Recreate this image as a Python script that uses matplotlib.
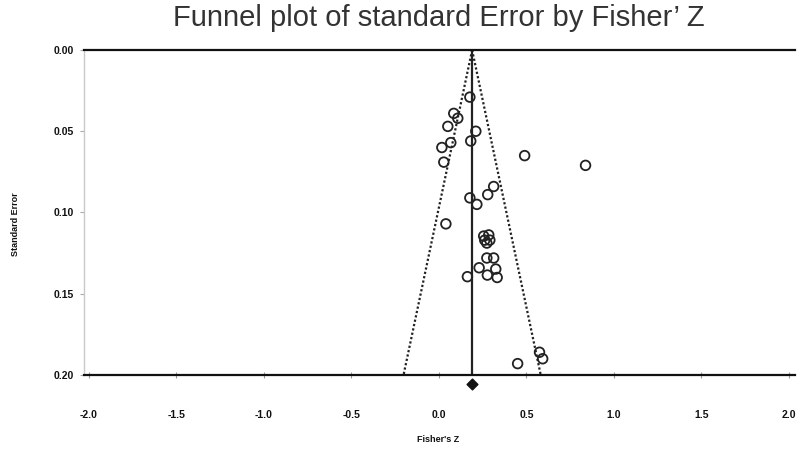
import numpy as np
import matplotlib
matplotlib.use("Agg")
import matplotlib.pyplot as plt

# Study effect sizes (Fisher's Z) and their standard errors
fisher_z = [0.177, 0.085, 0.108, 0.051, 0.211, 0.182, 0.068, 0.017, 0.028,
            0.490, 0.838, 0.313, 0.279, 0.177, 0.217, 0.040,
            0.256, 0.285, 0.262, 0.291, 0.274,
            0.274, 0.313, 0.163, 0.230, 0.277, 0.325, 0.333,
            0.575, 0.593, 0.450]
std_err = [0.029, 0.039, 0.042, 0.047, 0.050, 0.056, 0.057, 0.060, 0.069,
           0.065, 0.071, 0.084, 0.089, 0.091, 0.095, 0.107,
           0.1145, 0.1138, 0.117, 0.117, 0.1188,
           0.128, 0.128, 0.1395, 0.134, 0.1385, 0.1348, 0.140,
           0.186, 0.190, 0.193]
pooled_z = 0.19
se_max = 0.20

x_ticks = [-2.0, -1.5, -1.0, -0.5, 0.0, 0.5, 1.0, 1.5, 2.0]
y_ticks = [0.00, 0.05, 0.10, 0.15, 0.20]

fig = plt.figure(figsize=(8, 4.58), dpi=100)
ax = fig.add_axes([84 / 800, 1 - 375 / 458, 711 / 800, 325 / 458])

ax.set_xlim(-2.028, 2.035)
ax.set_ylim(se_max, 0.0)

# pseudo 95% confidence funnel
se_line = np.array([0.0, se_max])
ax.plot(pooled_z - 1.96 * se_line, se_line, color="#222222", lw=1.6,
        linestyle=(0, (1, 1)), zorder=2)
ax.plot(pooled_z + 1.96 * se_line, se_line, color="#222222", lw=1.6,
        linestyle=(0, (1, 1)), zorder=2)
ax.plot([pooled_z, pooled_z], [0.0, se_max], color="#222222", lw=1.6, zorder=2)

ax.scatter(fisher_z, std_err, s=48, facecolors="none", edgecolors="#222222",
           linewidths=1.3, zorder=3)

# pooled estimate diamond below the axis
ax.scatter([pooled_z], [se_max + 0.0055], marker="D", s=30, color="#111111",
           clip_on=False, zorder=4)

ax.spines["right"].set_visible(False)
ax.spines["top"].set_color("#111111")
ax.spines["top"].set_linewidth(1.6)
ax.spines["bottom"].set_color("#111111")
ax.spines["bottom"].set_linewidth(1.6)
ax.spines["left"].set_color("#c8c8c8")
ax.spines["left"].set_linewidth(1.0)

ax.set_xticks(x_ticks)
ax.set_xticklabels([f"{v:.1f}" for v in x_ticks])
ax.set_yticks(y_ticks)
ax.set_yticklabels([f"{v:.2f}" for v in y_ticks])
ax.tick_params(axis="x", direction="inout", length=5, color="#999999",
               pad=23, labelsize=7.5)
ax.tick_params(axis="y", direction="out", length=3, color="#aaaaaa",
               pad=4, labelsize=7.5)
for lbl in ax.get_xticklabels() + ax.get_yticklabels():
    lbl.set_fontweight("bold")
    lbl.set_family("Liberation Sans")
    lbl.set_color("#111111")

fig.text(438 / 800, 1 - 440 / 458, "Fisher's Z", ha="center", va="center",
         fontsize=6.5, fontweight="bold", family="Liberation Sans",
         color="#111111")
fig.text(15 / 800, 1 - 224 / 458, "Standard Error", ha="center", va="center",
         rotation=90, fontsize=6.5, fontweight="bold",
         family="Liberation Sans", color="#111111")

fig.text(439 / 800, 1 - 18 / 458, "Funnel plot of standard Error by Fisher\u2019 Z",
         ha="center", va="center", fontsize=21, family="Liberation Sans",
         color="#333333")

fig.savefig("out.png", dpi=100)
